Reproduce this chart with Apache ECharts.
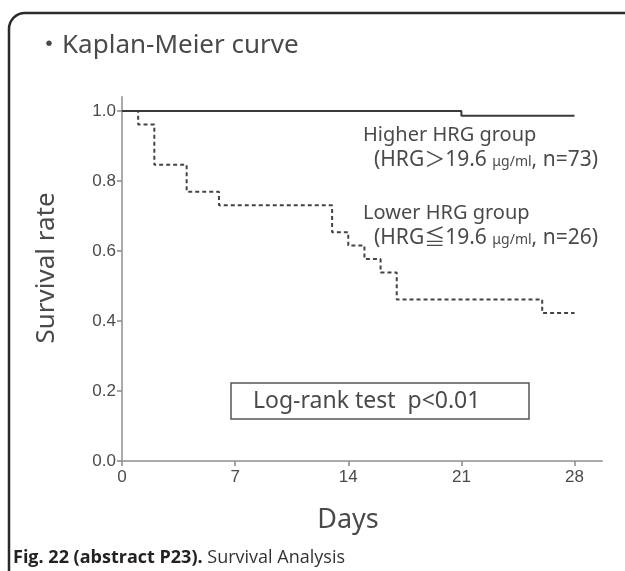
<!DOCTYPE html>
<html>
<head>
<meta charset="utf-8">
<style>
html,body{margin:0;padding:0;background:#fff;}
#chart{width:625px;height:571px;}
</style>
<script src="https://cdn.jsdelivr.net/npm/echarts@6/dist/echarts.min.js"></script>
</head>
<body>
<div id="chart"></div>
<script>
// Data
var higherDays = [0, 21, 28];
var higherSurv = [1.0, 72/73, 72/73];
var lowerDays = [0, 1, 2, 4, 6, 13, 14, 15, 16, 17, 26, 28];
var lowerSurv = [1.0, 25/26, 22/26, 20/26, 19/26, 17/26, 16/26, 15/26, 14/26, 12/26, 11/26, 11/26];
var xTicks = [0, 7, 14, 21, 28];
var yTicks = [0, 0.2, 0.4, 0.6, 0.8, 1.0];

function pairs(xs, ys) { return xs.map(function (x, i) { return [x, ys[i]]; }); }

var chart = echarts.init(document.getElementById('chart'), null, {renderer: 'canvas'});
var sans = '"Noto Sans", "Noto Sans CJK JP", sans-serif';
var arial = '"Liberation Sans", Arial, sans-serif';
var txtColor = '#4a4a4a';

var option = {
  backgroundColor: '#fff',
  animation: false,
  grid: {left: 122, right: 23, top: 97, bottom: 110, containLabel: false},
  xAxis: {
    type: 'value', min: 0, max: 29.7, interval: 7,
    name: 'Days', nameLocation: 'middle', nameGap: 46,
    nameTextStyle: {fontFamily: sans, fontSize: 27, color: txtColor, padding: [0, 28, 0, 0]},
    axisLine: {show: true, lineStyle: {color: '#aaa', width: 2}},
    axisTick: {show: true, length: 5, customValues: xTicks, lineStyle: {color: '#888', width: 1.5}},
    axisLabel: {customValues: xTicks, fontFamily: arial, fontSize: 17, color: txtColor, margin: 8},
    splitLine: {show: false}
  },
  yAxis: {
    type: 'value', min: 0, max: 1.04, interval: 0.2,
    name: 'Survival rate', nameLocation: 'middle', nameGap: 62, nameRotate: 90,
    nameTextStyle: {fontFamily: sans, fontSize: 26, color: txtColor, padding: [0, 0, 0, 22]},
    axisLine: {show: true, lineStyle: {color: '#aaa', width: 2}},
    axisTick: {show: true, length: 5, customValues: yTicks, lineStyle: {color: '#888', width: 1.5}},
    axisLabel: {customValues: yTicks, fontFamily: arial, fontSize: 17, color: txtColor, margin: 6,
      formatter: function (v) { return v.toFixed(1); }},
    splitLine: {show: false}
  },
  series: [
    {
      name: 'Higher HRG group', type: 'line', step: 'end', symbol: 'none',
      data: pairs(higherDays, higherSurv),
      lineStyle: {color: '#3a3a3a', width: 2}, z: 3
    },
    {
      name: 'Lower HRG group', type: 'line', step: 'end', symbol: 'none',
      data: pairs(lowerDays, lowerSurv),
      lineStyle: {color: '#444', width: 2, type: [4, 3]}, z: 2
    }
  ],
  graphic: [
    {type: 'rect', shape: {x: 9, y: 13, width: 800, height: 800, r: 16},
      style: {fill: null, stroke: '#2a2a2a', lineWidth: 2.5}, z: -1},
    {type: 'text', x: 36, y: 46, style: {text: '・Kaplan-Meier curve', font: '26px ' + sans, fill: txtColor, verticalAlign: 'middle'}},
    {type: 'text', x: 363, y: 135, style: {text: 'Higher HRG group', font: '20px ' + sans, fill: txtColor, verticalAlign: 'middle'}},
    {type: 'text', x: 374, y: 160, style: {
      text: '(HRG＞19.6 {s|μg/ml}, n=73)', font: '21px ' + sans, fill: txtColor, verticalAlign: 'middle',
      rich: {s: {fontSize: 14, fontFamily: sans, fill: txtColor, padding: [4, 0, 0, 0]}}}},
    {type: 'text', x: 363, y: 213, style: {text: 'Lower HRG group', font: '20px ' + sans, fill: txtColor, verticalAlign: 'middle'}},
    {type: 'text', x: 374, y: 238, style: {
      text: '(HRG≦19.6 {s|μg/ml}, n=26)', font: '21px ' + sans, fill: txtColor, verticalAlign: 'middle',
      rich: {s: {fontSize: 14, fontFamily: sans, fill: txtColor, padding: [4, 0, 0, 0]}}}},
    {type: 'rect', shape: {x: 231, y: 383, width: 298, height: 36},
      style: {fill: '#fff', stroke: '#555', lineWidth: 1.5}},
    {type: 'text', x: 253, y: 401, style: {text: 'Log-rank test  p<0.01', font: '23px ' + sans, fill: txtColor, verticalAlign: 'middle'}},
    {type: 'text', x: 13, y: 558, style: {
      text: '{b|Fig. 22 (abstract P23).} Survival Analysis', font: '18px "Open Sans", sans-serif', fill: '#333', verticalAlign: 'middle',
      rich: {b: {fontWeight: 'bold', fontSize: 18, fontFamily: '"Open Sans", sans-serif', fill: '#222'}}}}
  ]
};
chart.setOption(option);
</script>
</body>
</html>
